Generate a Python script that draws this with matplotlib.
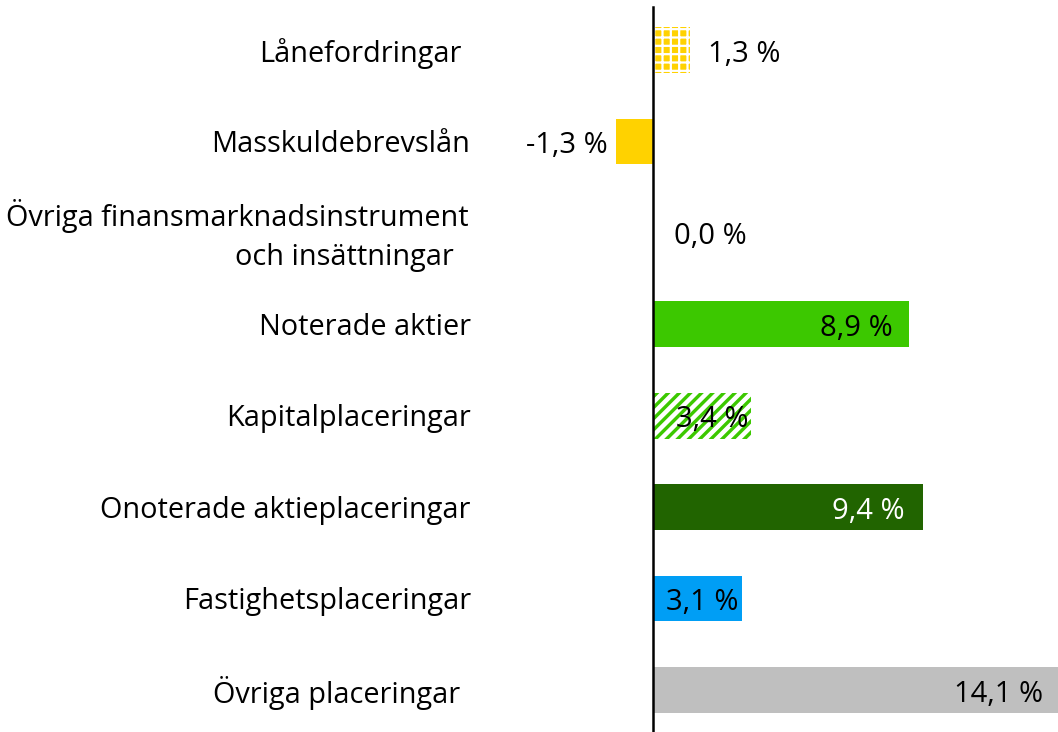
import matplotlib
matplotlib.use("Agg")
import matplotlib.pyplot as plt

categories = ["Lånefordringar", "Masskuldebrevslån",
              "Övriga finansmarknadsinstrument\noch insättningar  ",
              "Noterade aktier", "Kapitalplaceringar", "Onoterade aktieplaceringar",
              "Fastighetsplaceringar", "Övriga placeringar"]
values = [1.3, -1.3, 0.0, 8.9, 3.4, 9.4, 3.1, 14.1]
labels = ["1,3 %", "-1,3 %", "0,0 %", "8,9 %", "3,4 %", "9,4 %", "3,1 %", "14,1 %"]
colors = ["#FFD200", "#FFD200", "#FFD200", "#3CC800", "#3CC800", "#216400", "#009EF5", "#BFBFBF"]
hatches = ["++", None, None, None, "///", None, None, None]
hatch_lw = [1.6, 1, 1, 1, 3.2, 1, 1, 1]
text_colors = ["black", "black", "black", "black", "black", "white", "black", "black"]

# label placement (pixel offsets from bar end)
label_off = [18, -8, 21, -16, -2, -18, -4, -15]
label_ha = ["left", "right", "left", "right", "right", "right", "right", "right"]
# right edge (pixels) of category labels
cat_right = [461, 470, 469, 471, 471, 470, 471, 460]

plt.rcParams['font.family'] = ['Open Sans', 'DejaVu Sans']

W, H = 1058, 732
fig = plt.figure(figsize=(W / 100, H / 100), dpi=100)
ax_left = 500 / W
ax = fig.add_axes([ax_left, 0.0, 1 - ax_left, 1.0])
ppu = (1058 - 653) / 14.1
xmin = -(653 - 500) / ppu
ax.set_xlim(xmin, 14.1)
ax.set_ylim(7.459, -0.547)

ys = list(range(len(values)))
for y, v, c, h, hl in zip(ys, values, colors, hatches, hatch_lw):
    if v == 0:
        continue
    with plt.rc_context({'hatch.linewidth': hl, 'hatch.color': 'white'}):
        if h:
            ax.barh(y, v, height=0.5, color=c, edgecolor='white', hatch=h, linewidth=0)
        else:
            ax.barh(y, v, height=0.5, color=c, linewidth=0)

ax.axvline(0, ymin=0.0, ymax=0.99, color='black', linewidth=1.8)

for y, v, lab, tc, off, ha in zip(ys, values, labels, text_colors, label_off, label_ha):
    ax.annotate(lab, (v, y), xytext=(off, -4), textcoords='offset pixels',
                ha=ha, va='center', fontsize=21, color=tc)

for y, cat, r in zip(ys, categories, cat_right):
    ax.annotate(cat, (xmin, y), xytext=(r - 500, -3), textcoords='offset pixels',
                ha='right', va='center', fontsize=20.8, color='black', multialignment='right',
                annotation_clip=False, linespacing=1.45)

ax.axis('off')
fig.savefig("out.png", dpi=100)
